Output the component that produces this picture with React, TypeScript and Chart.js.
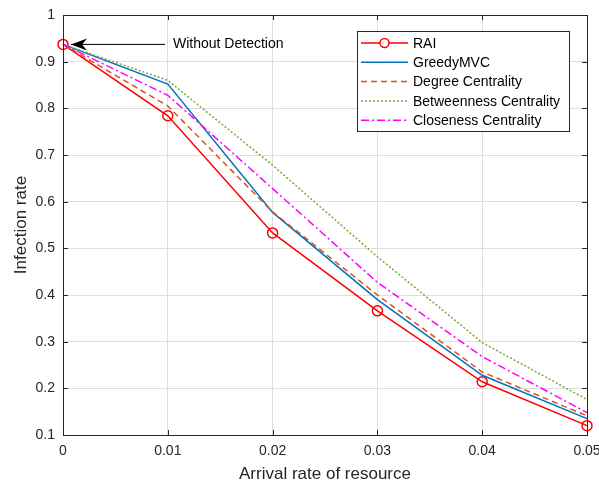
import React, { useEffect, useRef } from "react";
import { Chart, registerables } from "chart.js";

Chart.register(...registerables);

const arrivalRates = [0, 0.01, 0.02, 0.03, 0.04, 0.05];
const raiValues = [0.937, 0.784, 0.533, 0.366, 0.214, 0.12];
const greedyValues = [0.937, 0.852, 0.577, 0.39, 0.228, 0.135];
const degreeValues = [0.937, 0.805, 0.578, 0.4, 0.235, 0.141];
const betweennessValues = [0.937, 0.86, 0.678, 0.482, 0.298, 0.176];
const closenessValues = [0.937, 0.828, 0.628, 0.427, 0.268, 0.148];
const seriesNames = ["RAI", "GreedyMVC", "Degree Centrality", "Betweenness Centrality", "Closeness Centrality"];
const annotationText = "Without Detection";
const xTitle = "Arrival rate of resource";
const yTitle = "Infection rate";

const FONT = "'Liberation Sans', Arial, Helvetica, sans-serif";
const TXT = "#262626";

const toPts = (vals: number[]) => vals.map((v, i) => ({ x: arrivalRates[i], y: v }));

const styles = [
  { color: "#ff0000", dash: [] as number[], marker: true },
  { color: "#0072BD", dash: [] as number[], marker: false },
  { color: "#D95319", dash: [6, 4], marker: false },
  { color: "#77AC30", dash: [2, 2], marker: false },
  { color: "#ff00ff", dash: [8, 3, 2, 3], marker: false },
];

const decorPlugin = {
  id: "decor",
  afterDatasetsDraw(chart: any) {
    const { ctx, chartArea: a, scales } = chart;
    const xs = scales.x;
    const ys = scales.y;
    ctx.save();
    // box
    ctx.strokeStyle = TXT;
    ctx.lineWidth = 1;
    ctx.setLineDash([]);
    ctx.strokeRect(Math.round(a.left) + 0.5, Math.round(a.top) + 0.5, Math.round(a.right - a.left), Math.round(a.bottom - a.top));
    // inside ticks
    const tl = 5;
    ctx.beginPath();
    xs.ticks.forEach((t: any) => {
      const px = Math.round(xs.getPixelForValue(t.value)) + 0.5;
      ctx.moveTo(px, a.bottom);
      ctx.lineTo(px, a.bottom - tl);
      ctx.moveTo(px, a.top);
      ctx.lineTo(px, a.top + tl);
    });
    ys.ticks.forEach((t: any) => {
      const py = Math.round(ys.getPixelForValue(t.value)) + 0.5;
      ctx.moveTo(a.left, py);
      ctx.lineTo(a.left + tl, py);
      ctx.moveTo(a.right, py);
      ctx.lineTo(a.right - tl, py);
    });
    ctx.stroke();

    // annotation
    const px0 = xs.getPixelForValue(arrivalRates[0]);
    const py0 = ys.getPixelForValue(raiValues[0]);
    const tipX = px0 + 8;
    ctx.strokeStyle = "#000";
    ctx.fillStyle = "#000";
    ctx.lineWidth = 1;
    ctx.beginPath();
    ctx.moveTo(tipX, py0);
    ctx.lineTo(px0 + 102, py0);
    ctx.stroke();
    ctx.beginPath();
    ctx.moveTo(tipX, py0);
    ctx.lineTo(tipX + 16, py0 - 6);
    ctx.lineTo(tipX + 11, py0);
    ctx.lineTo(tipX + 16, py0 + 6);
    ctx.closePath();
    ctx.fill();
    ctx.font = `14px ${FONT}`;
    ctx.textAlign = "left";
    ctx.textBaseline = "middle";
    ctx.fillText(annotationText, px0 + 110, py0);

    // legend
    const lx = 357, ly = 31, lw = 212, lh = 100;
    ctx.fillStyle = "#fff";
    ctx.fillRect(lx, ly, lw, lh);
    ctx.strokeStyle = TXT;
    ctx.strokeRect(lx + 0.5, ly + 0.5, lw, lh);
    const rowH = 19.3;
    seriesNames.forEach((name, i) => {
      const y = ly + 12 + i * rowH;
      const st = styles[i];
      ctx.strokeStyle = st.color;
      ctx.lineWidth = 1.5;
      ctx.setLineDash(st.dash);
      ctx.beginPath();
      ctx.moveTo(lx + 4, y);
      ctx.lineTo(lx + 51, y);
      ctx.stroke();
      ctx.setLineDash([]);
      if (st.marker) {
        ctx.beginPath();
        ctx.arc(lx + 27.5, y, 4.5, 0, Math.PI * 2);
        ctx.fillStyle = "#fff";
        ctx.fill();
        ctx.stroke();
      }
      ctx.fillStyle = "#000";
      ctx.font = `14px ${FONT}`;
      ctx.textAlign = "left";
      ctx.textBaseline = "middle";
      ctx.fillText(name, lx + 56, y + 1);
    });

    // axis titles
    ctx.fillStyle = TXT;
    ctx.font = `17px ${FONT}`;
    ctx.textAlign = "center";
    ctx.textBaseline = "middle";
    ctx.fillText(xTitle, (a.left + a.right) / 2, 474);
    ctx.save();
    ctx.translate(21, (a.top + a.bottom) / 2);
    ctx.rotate(-Math.PI / 2);
    ctx.fillText(yTitle, 0, 0);
    ctx.restore();
    ctx.restore();
  },
};

export default function App() {
  const ref = useRef<HTMLCanvasElement>(null);
  useEffect(() => {
    if (!ref.current) return;
    const data = [raiValues, greedyValues, degreeValues, betweennessValues, closenessValues];
    const chart = new Chart(ref.current, {
      type: "line",
      data: {
        datasets: data.map((vals, i) => ({
          label: seriesNames[i],
          data: toPts(vals),
          borderColor: styles[i].color,
          backgroundColor: "rgba(0,0,0,0)",
          borderWidth: 1.5,
          borderDash: styles[i].dash,
          pointRadius: styles[i].marker ? 5 : 0,
          pointBorderWidth: 1.5,
          pointBorderColor: styles[i].color,
          pointBackgroundColor: "rgba(0,0,0,0)",
          pointHoverRadius: 0,
          tension: 0,
          order: 5 - i,
          clip: false,
        })),
      },
      options: {
        responsive: false,
        animation: false,
        events: [],
        layout: { padding: { top: 15, right: 12, left: 0, bottom: 0 } },
        plugins: { legend: { display: false }, tooltip: { enabled: false } },
        scales: {
          x: {
            type: "linear",
            min: 0,
            max: 0.05,
            ticks: {
              stepSize: 0.01,
              padding: 8,
              color: TXT,
              font: { family: FONT, size: 14 },
              callback: (v: any) => String(+Number(v).toFixed(2)),
            },
            grid: { color: "#dedede", drawTicks: false, lineWidth: 1 },
            border: { display: false },
            afterFit: (s: any) => { s.height = 51; s.paddingLeft = 0; s.paddingRight = 0; },
          },
          y: {
            type: "linear",
            min: 0.1,
            max: 1,
            ticks: {
              stepSize: 0.1,
              padding: 8,
              color: TXT,
              font: { family: FONT, size: 14 },
              callback: (v: any) => String(+Number(v).toFixed(1)),
            },
            grid: { color: "#dedede", drawTicks: false, lineWidth: 1 },
            border: { display: false },
            afterFit: (s: any) => { s.width = 63; s.paddingTop = 0; s.paddingBottom = 0; },
          },
        },
      },
      plugins: [decorPlugin],
    } as any);
    return () => chart.destroy();
  }, []);
  return (
    <div style={{ position: "fixed", left: 0, top: 0, width: 599, height: 486, background: "#fff" }}>
      <canvas ref={ref} width={599} height={486} style={{ display: "block" }} />
    </div>
  );
}
